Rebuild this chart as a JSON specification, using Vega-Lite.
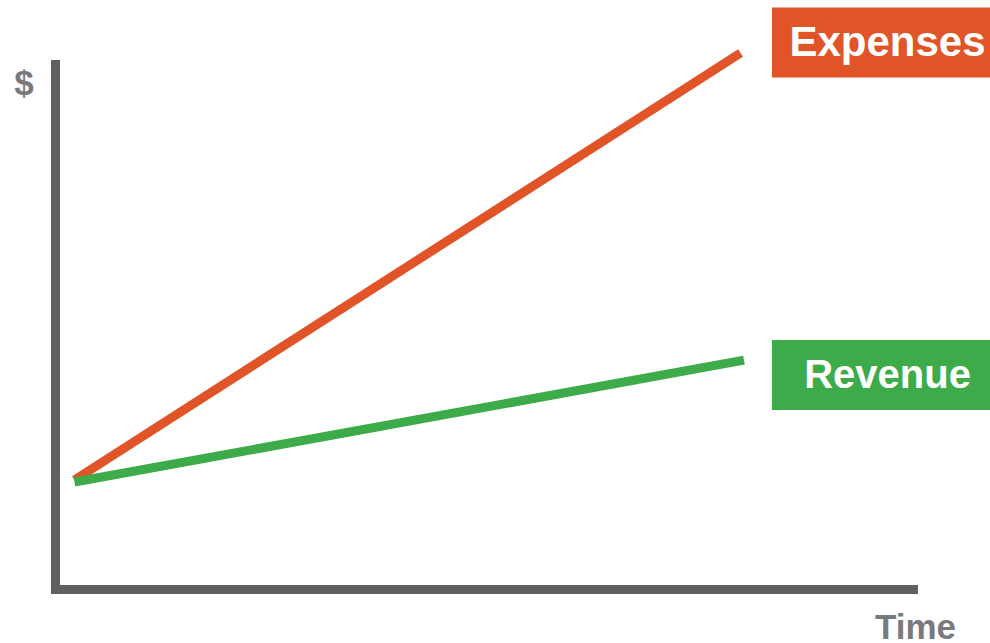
{
  "$schema": "https://vega.github.io/schema/vega-lite/v6.json",
  "width": 858,
  "height": 525,
  "autosize": {"type": "none"},
  "padding": {"left": 55, "top": 64, "right": 77, "bottom": 54},
  "background": "white",
  "config": {"view": {"stroke": null}, "font": "Liberation Sans"},
  "datasets": {
    "series": [
      {"series": "Expenses", "time": 2.27, "value": 20.76},
      {"series": "Expenses", "time": 79.9, "value": 102.1},
      {"series": "Revenue", "time": 2.27, "value": 20.38},
      {"series": "Revenue", "time": 80.3, "value": 43.6}
    ],
    "labels": [
      {"series": "Expenses", "time": 97.03, "value": 104.1},
      {"series": "Revenue", "time": 97.03, "value": 40.76}
    ]
  },
  "layer": [
    {
      "data": {"name": "series"},
      "mark": {"type": "line", "strokeWidth": 9, "strokeCap": "butt", "clip": false},
      "encoding": {
        "x": {
          "field": "time", "type": "quantitative",
          "scale": {"domain": [0, 100], "nice": false, "zero": false},
          "axis": {
            "title": "Time", "domain": true, "domainWidth": 9, "domainColor": "#5F6062",
            "domainCap": "square", "ticks": false, "labels": false, "grid": false,
            "titleFont": "Liberation Sans", "titleFontSize": 35, "titleFontWeight": "bold",
            "titleColor": "#7A7A7D", "titleX": 860, "titleY": 49,
            "titleAlign": "center", "titleBaseline": "alphabetic"
          }
        },
        "y": {
          "field": "value", "type": "quantitative",
          "scale": {"domain": [0, 100], "nice": false, "zero": false},
          "axis": {
            "title": "$", "domain": true, "domainWidth": 9, "domainColor": "#5F6062",
            "domainCap": "square", "ticks": false, "labels": false, "grid": false,
            "titleFont": "Liberation Sans", "titleFontSize": 35, "titleFontWeight": "bold",
            "titleColor": "#7A7A7D", "titleAngle": 0, "titleX": -31.5, "titleY": 30.3,
            "titleAlign": "center", "titleBaseline": "alphabetic"
          }
        },
        "color": {
          "field": "series", "type": "nominal",
          "scale": {"domain": ["Expenses", "Revenue"], "range": ["#E05428", "#3DAB4A"]},
          "legend": null
        },
        "detail": {"field": "series"}
      }
    },
    {
      "data": {"name": "labels"},
      "mark": {"type": "rule", "strokeWidth": 70, "strokeCap": "butt", "xOffset": -115.5, "x2Offset": 115.5, "clip": false},
      "encoding": {
        "x": {"field": "time", "type": "quantitative"},
        "x2": {"field": "time"},
        "y": {"field": "value", "type": "quantitative"},
        "color": {"field": "series", "type": "nominal", "legend": null}
      }
    },
    {
      "data": {"name": "labels"},
      "transform": [{"filter": "datum.series === 'Expenses'"}],
      "mark": {"type": "text", "font": "Liberation Sans", "fontWeight": "bold", "fontSize": 42, "color": "white", "align": "center", "baseline": "middle", "dy": 1, "clip": false},
      "encoding": {
        "x": {"field": "time", "type": "quantitative"},
        "y": {"field": "value", "type": "quantitative"},
        "text": {"field": "series"}
      }
    },
    {
      "data": {"name": "labels"},
      "transform": [{"filter": "datum.series === 'Revenue'"}],
      "mark": {"type": "text", "font": "Liberation Sans", "fontWeight": "bold", "fontSize": 40, "color": "white", "align": "center", "baseline": "middle", "dy": 0.5, "clip": false},
      "encoding": {
        "x": {"field": "time", "type": "quantitative"},
        "y": {"field": "value", "type": "quantitative"},
        "text": {"field": "series"}
      }
    }
  ]
}
